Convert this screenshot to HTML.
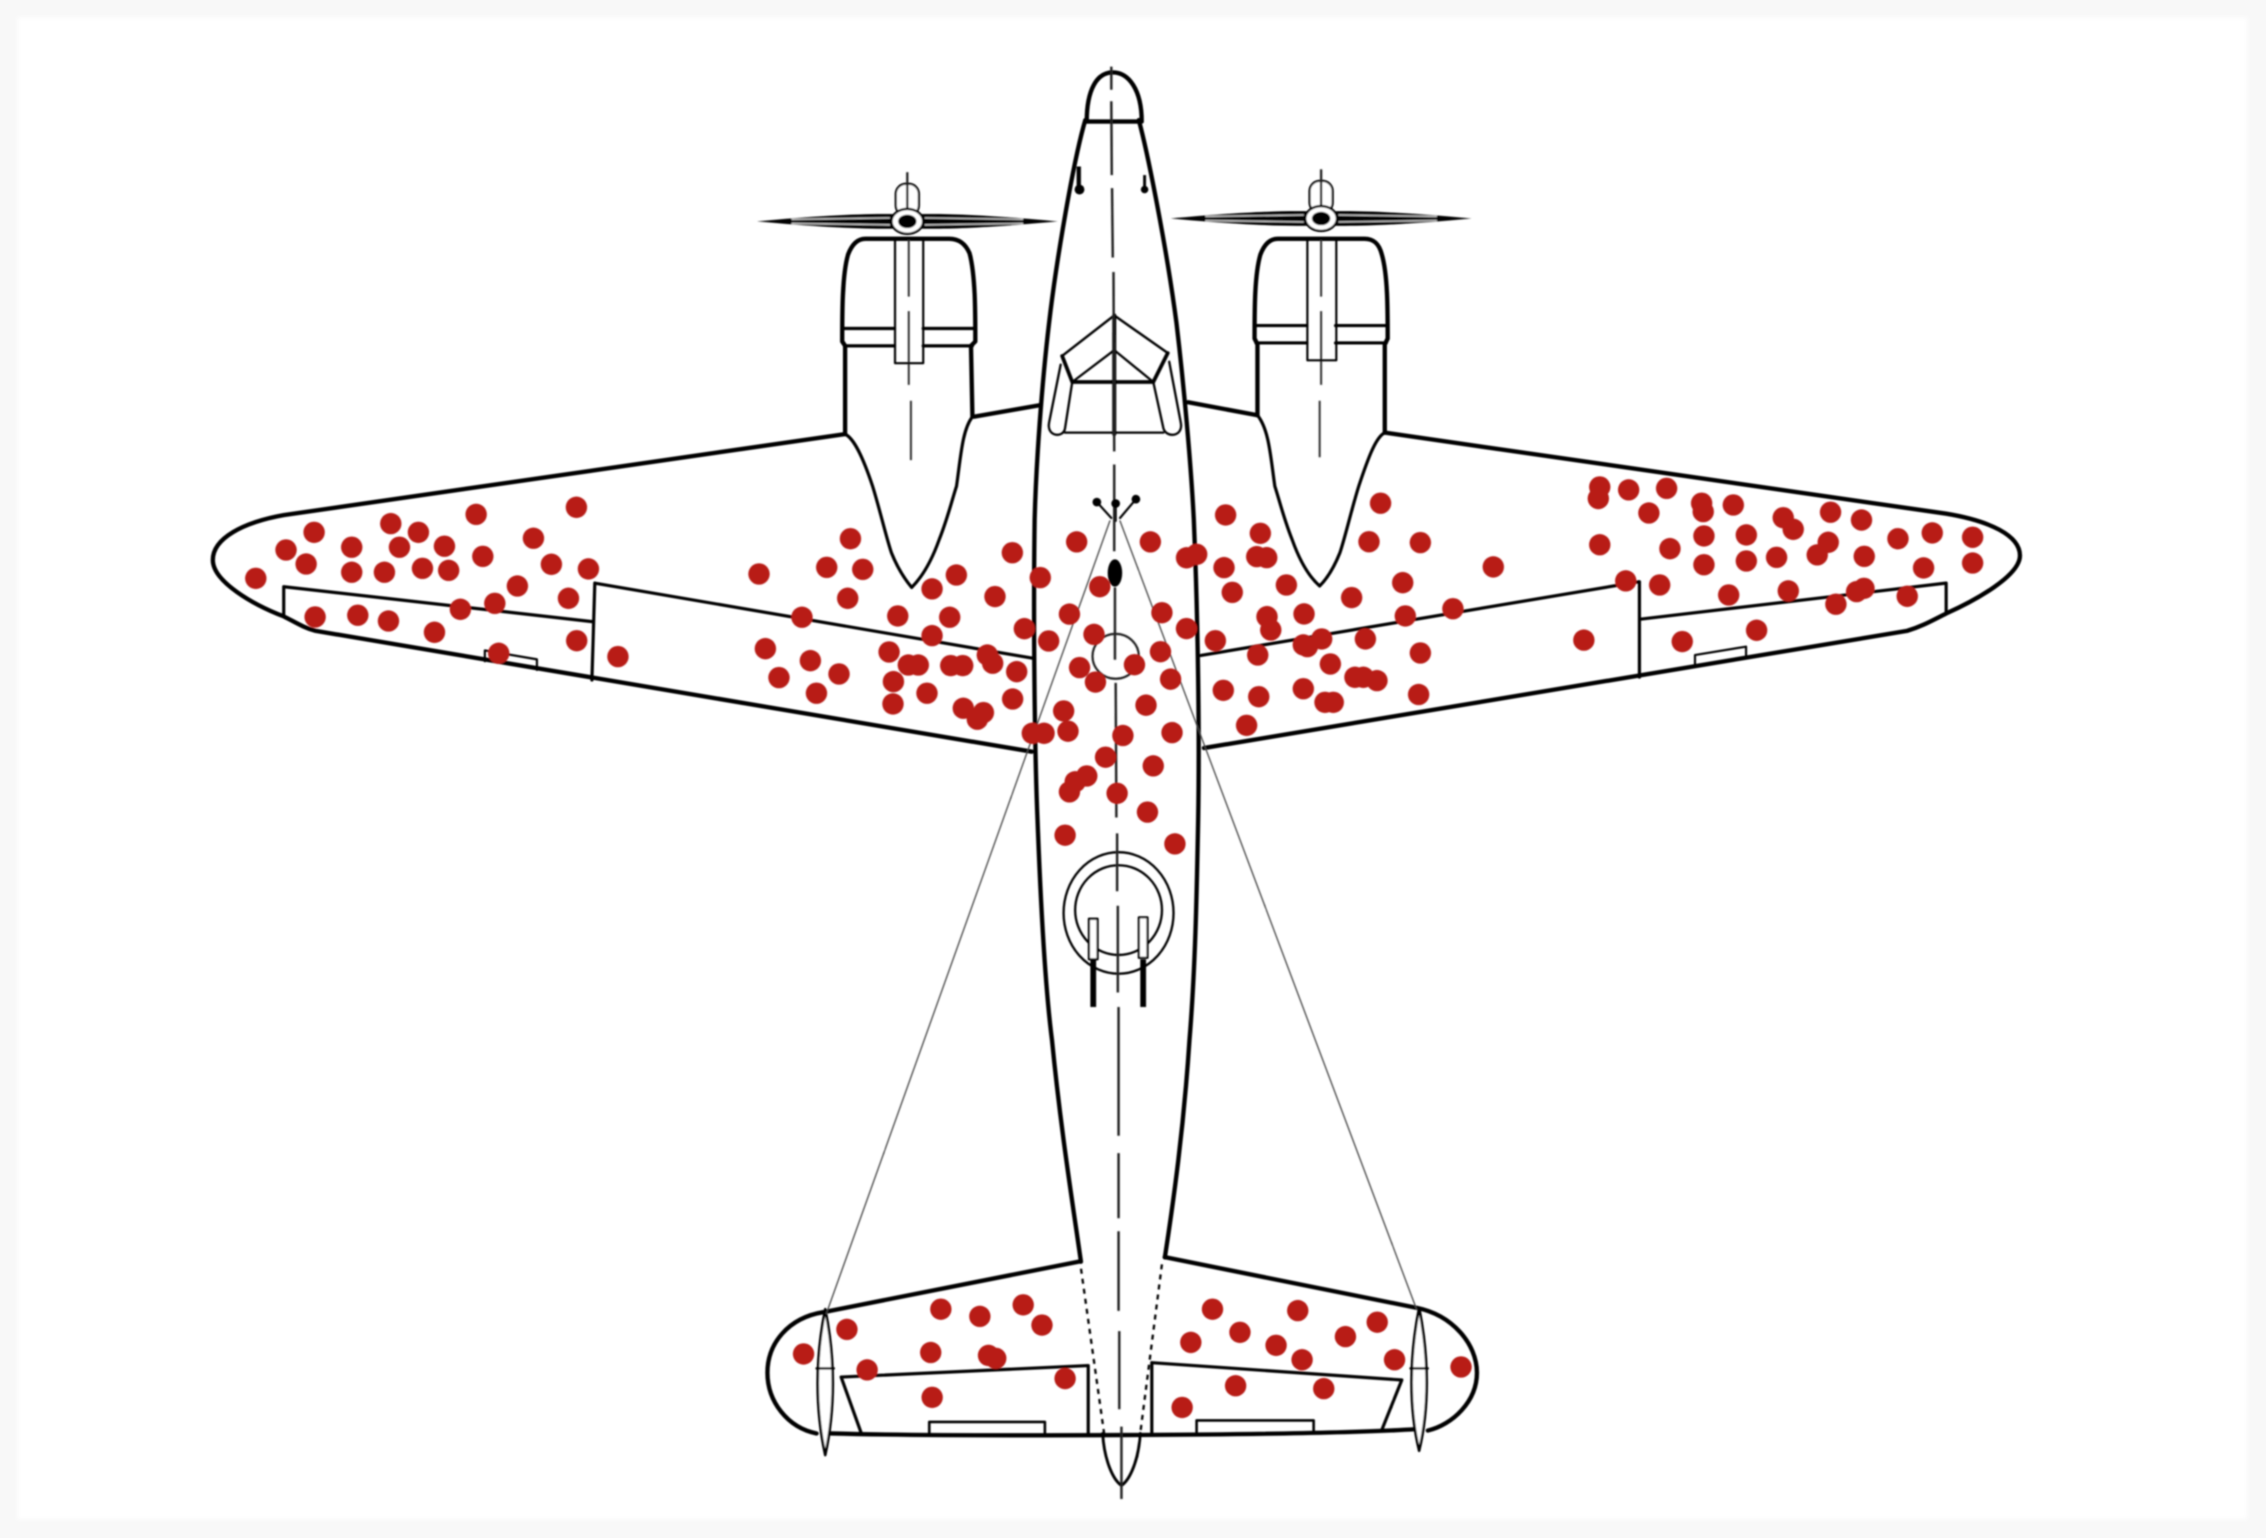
<!DOCTYPE html>
<html>
<head>
<meta charset="utf-8">
<style>
html,body{margin:0;padding:0;background:#f8f8f8;width:2266px;height:1538px;overflow:hidden}
svg{position:absolute;left:0;top:0;display:block}
</style>
</head>
<body>
<svg width="2266" height="1538" viewBox="0 0 1566 1063" xmlns="http://www.w3.org/2000/svg">
<defs>
<filter id="soft" x="-2%" y="-2%" width="104%" height="104%"><feGaussianBlur stdDeviation="0.5"/></filter>
<filter id="edge" x="-2%" y="-2%" width="104%" height="104%"><feGaussianBlur stdDeviation="1.5"/></filter>
<g id="prop">
  <path d="M-104,0 C-60,-4 -30,-5.5 -8,-5 L8,-5 C30,-5.5 60,-4 104,0 C60,4 30,5.5 8,5 L-8,5 C-30,5.5 -60,4 -104,0Z" fill="#000"/>
  <path d="M-80,-1.4 L-12,-2.4 M-80,1.4 L-12,2.4 M12,-2.4 L80,-1.4 M12,2.4 L80,1.4" stroke="#c8c8c8" stroke-width="1"/>
  <rect x="-8" y="-26" width="16" height="22" rx="7" fill="#fff" stroke="#000" stroke-width="1.5"/>
  <line x1="0" y1="-34" x2="0" y2="-4" stroke="#222" stroke-width="1.6"/>
  <ellipse cx="0" cy="0" rx="11" ry="8.6" fill="#fff" stroke="#000" stroke-width="1.6"/>
  <ellipse cx="0" cy="0" rx="6.3" ry="4.6" fill="#000"/>
</g>
</defs>
<rect x="0" y="0" width="1566" height="1063" fill="#f8f8f8"/>
<rect x="12" y="12" width="1541" height="1038" fill="#fff" filter="url(#edge)"/>
<g filter="url(#soft)">
<g fill="none" stroke="#000" stroke-width="3" stroke-linejoin="round" stroke-linecap="round">
  <!-- fuselage -->
  <path d="M750,83 C742,110 730,180 725,223 C720,265 716,320 715,359 C714,430 715,520 717,567 C719,620 722,680 727,719 C733,780 741,830 747,872"/>
  <path d="M787,83 C793,105 806,170 813,223 C818,265 823,320 825,359 C828,430 829,510 828,567 C827,620 826,670 822,719 C818,780 811,830 805,869"/>
  <path d="M751,84 C751,62 758,50 769,50 C780,50 789,62 789,84 L751,84Z"/>
  <!-- wings -->
  <path d="M584,300 L196,356 C168,361 147,372 147,387 C147,402 175,418 196,426 C204,430 210,434 218,436 L713,519.5"/>
  <path d="M957,299 L1345,355 C1375,360 1396,370 1396,384 C1396,398 1365,415 1345,424 C1335,429 1328,433 1318,436 L832,517"/>
  <path d="M673,288 L719,280 M821,278 L869,287"/>
  <!-- left engine -->
  <path d="M584,300 L584,239 L582,236 C582,215 582,190 586,176 C589,168 593,165 598,165 L656,165 C662,165 667,168 670,175 C674,190 674,215 674,236 L671,239 L672,288"/>
  <path d="M584,300 C590,303 596,315 603,336 C608,352 612,370 616,382 C620,392 625,400 630,406 C638,398 644,387 649,373 C655,358 658,345 661,336 C664,315 665,297 672,288" stroke-width="2.2"/>
  <path d="M583,227 L618,227 M638,227 L674,227 M584,239 L618,239 M638,239 L672,239" stroke-width="2.2"/>
  <!-- right engine -->
  <path d="M869,287 L869,238 L867,234 C867,213 867,190 871,176 C874,168 878,165 883,165 L943,165 C949,165 953,168 955,176 C959,190 959,213 959,234 L957,238 L957,299"/>
  <path d="M957,299 C951,302 946,315 939,336 C934,352 930,370 926,382 C922,392 917,400 912,405 C904,398 898,387 893,373 C887,358 884,345 881,336 C878,315 877,297 869,287" stroke-width="2.2"/>
  <path d="M868,225 L903,225 M923,225 L959,225 M868,237 L903,237 M923,237 L958,237" stroke-width="2.2"/>
  <!-- wing control surfaces -->
  <path d="M196,426 L196,405.5 L409,429.6 M411,403 L714,455 M411,403 L409,470" stroke-width="2.2"/>
  <path d="M830,453 L1133,402 L1133,468 M1133,428 L1345,403 L1345,424" stroke-width="2.2"/>
  <path d="M335,457 L335,449.5 L371,455.7 L371,463 M1171.4,460.5 L1171.4,452.7 L1206.7,446.9 L1206.7,455" stroke-width="1.5"/>
  <!-- tail -->
  <g transform="scale(.99872)">
  <path d="M747,873 L570,908 C545,912 531,930 531,950 C531,970 545,988 565,992"/>
  <path d="M806,870 L980,905 C1005,910 1022,930 1022,950 C1022,970 1005,986 988,990"/>
  <path d="M575,992 C650,994 900,994 980,989"/>
  <path d="M753,992 L753,945 L582,953 L596,992" stroke-width="2.2"/>
  <path d="M797,992 L797,943 L970,955 L956,990" stroke-width="2.2"/>
  <path d="M643,992 L643,984 L723,984 L723,992 M828,991 L828,983 L909,983 L909,991" stroke-width="1.8"/>
  <path d="M571,906 C564,940 564,975 571,1007 C578,975 578,940 571,906Z" fill="#fff" stroke-width="1.8"/>
  <path d="M982,905 C975,940 975,975 982,1004 C989,975 989,940 982,905Z" fill="#fff" stroke-width="1.8"/>
  <path d="M565,947 L577,947 M976,947 L988,947" stroke-width="1.6"/>
  <path d="M763,992 C764,1010 770,1024 776,1028 C782,1024 788,1010 789,992" stroke-width="2"/>
  <path d="M748,878 L764,992 M804,875 L789,992" stroke-width="1.6" stroke-dasharray="3.5 3.5" stroke-linecap="butt"/>
  </g>
  <!-- cockpit -->
  <path d="M770,218 L734,246 L741,264 L797,264 L807,244 L770,218Z" stroke-width="1.7"/>
  <path d="M741,264 L770,242 L797,264" stroke-width="1.6"/>
  <path d="M741,264 L797,264 M734,246 L741,264 M807,244 L797,264" stroke-width="2.6"/>
  <path d="M733,252 L725,292 C723,302 735,303 736,296 L741,264" stroke-width="1.6"/>
  <path d="M808,250 L816,292 C818,302 806,303 804,296 L797,264" stroke-width="1.6"/>
  <path d="M736,299 L804,299" stroke-width="1.6"/>
  <path d="M770,218 L770,300" stroke-width="2.8"/>
  <!-- gun turret -->
  <ellipse cx="773" cy="631" rx="38" ry="42" stroke-width="1.6"/>
  <ellipse cx="773" cy="629" rx="30" ry="31" stroke-width="1.6"/>
  <rect x="752.5" y="635" width="6" height="28" fill="#fff" stroke-width="1.5"/>
  <rect x="787" y="634" width="6" height="28" fill="#fff" stroke-width="1.5"/>
  <path d="M755.5,663 L755.5,696 M790,663 L790,696" stroke-width="4" stroke-linecap="butt"/>
  <!-- antenna -->
  <path d="M767,360 L571,908 M774,360 L979,905" stroke="#444" stroke-width="0.9"/>
  <path d="M758,347 L768,358 M771,348 L771,360 M785,345 L774,358" stroke-width="1.5"/>
  <ellipse cx="771" cy="453.6" rx="16" ry="15.5" stroke="#222" stroke-width="1.5"/>
  <!-- centre lines -->
  <path d="M768,46 L768,62 M768,70 L768.3,121 M768.5,130 L769,178 M769.5,188 L770,312 M770,321 L770,381 M770.5,406 L770.5,456 M771,472 L771.5,565 M772,576 L772,616 M772.5,626 L772.5,686 M773,696 L773,785 M773,797 L773,842 M773,851 L773,906 M773.5,920 L773.5,974 M775,986 L775,1036" stroke="#222" stroke-width="1.7" stroke-linecap="butt"/>
  <path d="M628,165 L628,205 M628,215 L628,266 M629.5,277 L629.5,318 M913,165 L913,205 M913,215 L913,266 M912,277 L912,316" stroke="#333" stroke-width="1.4" stroke-linecap="butt"/>
  <rect x="618.5" y="165" width="19.5" height="86" stroke-width="1.5"/>
  <rect x="903.5" y="165" width="20" height="84" stroke-width="1.5"/>
</g>
<use href="#prop" x="627" y="153"/>
<use href="#prop" x="913" y="151"/>
<g fill="#000">
  <circle cx="758" cy="347" r="3"/><circle cx="771" cy="348" r="3"/><circle cx="785" cy="345" r="3"/>
  <ellipse cx="770.5" cy="396" rx="5" ry="9.5"/>
  <circle cx="746" cy="131" r="3.4"/><rect x="744" y="115" width="3" height="14"/>
  <circle cx="791" cy="131" r="2.6"/><rect x="790" y="121" width="2" height="9"/>
</g>
<g fill="#b81f17">
<!-- left wing tip -->
<circle cx="176.7" cy="399.7" r="7.4"/><circle cx="197.6" cy="380.1" r="7.4"/><circle cx="217" cy="367.9" r="7.4"/><circle cx="211.5" cy="389.8" r="7.4"/><circle cx="243" cy="378.2" r="7.4"/><circle cx="243" cy="395.5" r="7.4"/><circle cx="265.6" cy="395.5" r="7.4"/><circle cx="270" cy="361.9" r="7.4"/><circle cx="276" cy="378.2" r="7.4"/><circle cx="289.1" cy="367.9" r="7.4"/><circle cx="291.9" cy="392.8" r="7.4"/><circle cx="307.1" cy="377.5" r="7.4"/><circle cx="310" cy="394.2" r="7.4"/><circle cx="333.6" cy="384.5" r="7.4"/><circle cx="329" cy="355.5" r="7.4"/><circle cx="368.6" cy="372" r="7.4"/><circle cx="381" cy="390" r="7.4"/><circle cx="398.3" cy="350.6" r="7.4"/><circle cx="406.6" cy="393.2" r="7.4"/><circle cx="357.5" cy="405" r="7.4"/><circle cx="341.9" cy="417" r="7.4"/><circle cx="318.1" cy="421.1" r="7.4"/><circle cx="392.8" cy="413.5" r="7.4"/><circle cx="217.7" cy="426.4" r="7.4"/><circle cx="247.2" cy="425.2" r="7.4"/><circle cx="268.4" cy="429.2" r="7.4"/><circle cx="300.2" cy="437" r="7.4"/><circle cx="344.6" cy="451.5" r="7.4"/><circle cx="398.5" cy="442.8" r="7.4"/><circle cx="427" cy="453.8" r="7.4"/>
<!-- left inner wing -->
<circle cx="524.5" cy="396.7" r="7.4"/><circle cx="587.7" cy="372.3" r="7.4"/><circle cx="571.3" cy="392.1" r="7.4"/><circle cx="596.2" cy="393.5" r="7.4"/><circle cx="585.8" cy="413.5" r="7.4"/><circle cx="554.2" cy="426.6" r="7.4"/><circle cx="528.9" cy="448.3" r="7.4"/><circle cx="560" cy="456.6" r="7.4"/><circle cx="538.3" cy="468.3" r="7.4"/><circle cx="579.8" cy="465.8" r="7.4"/><circle cx="564.2" cy="479.1" r="7.4"/><circle cx="614.4" cy="450.6" r="7.4"/><circle cx="627.7" cy="459.6" r="7.4"/><circle cx="634.6" cy="459.6" r="7.4"/><circle cx="617.4" cy="471.1" r="7.4"/><circle cx="617.1" cy="486.5" r="7.4"/><circle cx="640.6" cy="479.1" r="7.4"/><circle cx="620.4" cy="425.7" r="7.4"/><circle cx="644.1" cy="407" r="7.4"/><circle cx="660.9" cy="397.4" r="7.4"/><circle cx="656.3" cy="426.6" r="7.4"/><circle cx="644.1" cy="439.3" r="7.4"/><circle cx="657" cy="460" r="7.4"/><circle cx="665.3" cy="460" r="7.4"/><circle cx="687.6" cy="412.3" r="7.4"/><circle cx="699.6" cy="382" r="7.4"/><circle cx="718.9" cy="399.2" r="7.4"/><circle cx="707.9" cy="434.5" r="7.4"/><circle cx="724.7" cy="443" r="7.4"/><circle cx="682.3" cy="452.7" r="7.4"/><circle cx="686" cy="458.4" r="7.4"/><circle cx="702.6" cy="464.2" r="7.4"/><circle cx="699.8" cy="483.1" r="7.4"/><circle cx="665.7" cy="489.5" r="7.4"/><circle cx="679.6" cy="492.5" r="7.4"/><circle cx="675.4" cy="497.1" r="7.4"/><circle cx="713.4" cy="506.8" r="7.4"/><circle cx="721.5" cy="506.8" r="7.4"/>
<!-- right inner wing -->
<circle cx="847" cy="355.9" r="7.4"/><circle cx="871" cy="368.6" r="7.4"/><circle cx="820" cy="385.5" r="7.4"/><circle cx="827" cy="383.1" r="7.4"/><circle cx="845.9" cy="392.3" r="7.4"/><circle cx="868.5" cy="384.7" r="7.4"/><circle cx="875.4" cy="385.4" r="7.4"/><circle cx="851.6" cy="409.4" r="7.4"/><circle cx="889" cy="404.3" r="7.4"/><circle cx="875.6" cy="426.2" r="7.4"/><circle cx="878.2" cy="435.4" r="7.4"/><circle cx="901.2" cy="424.3" r="7.4"/><circle cx="839.9" cy="442.8" r="7.4"/><circle cx="869.2" cy="452.7" r="7.4"/><circle cx="900.7" cy="445.7" r="7.4"/><circle cx="903.5" cy="446.9" r="7.4"/><circle cx="913.4" cy="441.6" r="7.4"/><circle cx="919.4" cy="458.9" r="7.4"/><circle cx="943.6" cy="441.6" r="7.4"/><circle cx="934.1" cy="413" r="7.4"/><circle cx="954.1" cy="347.8" r="7.4"/><circle cx="946.1" cy="374.4" r="7.4"/><circle cx="981.6" cy="375" r="7.4"/><circle cx="969.4" cy="402.7" r="7.4"/><circle cx="971.2" cy="425.7" r="7.4"/><circle cx="1004.1" cy="420.7" r="7.4"/><circle cx="1032" cy="391.8" r="7.4"/><circle cx="981.6" cy="451.3" r="7.4"/><circle cx="845.4" cy="477.1" r="7.4"/><circle cx="869.9" cy="481.5" r="7.4"/><circle cx="900.7" cy="476" r="7.4"/><circle cx="915.7" cy="485.4" r="7.4"/><circle cx="921.4" cy="485.4" r="7.4"/><circle cx="936.4" cy="468.1" r="7.4"/><circle cx="942.2" cy="468.1" r="7.4"/><circle cx="951.6" cy="470.4" r="7.4"/><circle cx="980.4" cy="480" r="7.4"/><circle cx="861.5" cy="501.3" r="7.4"/>
<!-- right wing tip -->
<circle cx="1151.8" cy="337.5" r="7.4"/><circle cx="1176" cy="347.8" r="7.4"/><circle cx="1177.1" cy="353.6" r="7.4"/><circle cx="1197.9" cy="349" r="7.4"/><circle cx="1232.4" cy="357.8" r="7.4"/><circle cx="1239.3" cy="365.8" r="7.4"/><circle cx="1265.1" cy="354" r="7.4"/><circle cx="1286.5" cy="359.4" r="7.4"/><circle cx="1177.6" cy="370.4" r="7.4"/><circle cx="1206.9" cy="369.7" r="7.4"/><circle cx="1154.1" cy="379.2" r="7.4"/><circle cx="1177.6" cy="390.3" r="7.4"/><circle cx="1206.9" cy="387.7" r="7.4"/><circle cx="1227.8" cy="385.2" r="7.4"/><circle cx="1263.5" cy="374.8" r="7.4"/><circle cx="1255.9" cy="383.5" r="7.4"/><circle cx="1288.4" cy="384.5" r="7.4"/><circle cx="1311.7" cy="372.3" r="7.4"/><circle cx="1335.4" cy="368.3" r="7.4"/><circle cx="1363.3" cy="371.3" r="7.4"/><circle cx="1363.3" cy="389.1" r="7.4"/><circle cx="1329.4" cy="392.5" r="7.4"/><circle cx="1194.7" cy="411.2" r="7.4"/><circle cx="1235.9" cy="408.4" r="7.4"/><circle cx="1268.8" cy="417.6" r="7.4"/><circle cx="1283.1" cy="408.9" r="7.4"/><circle cx="1288.2" cy="406.6" r="7.4"/><circle cx="1318.1" cy="412.1" r="7.4"/><circle cx="1214" cy="435.6" r="7.4"/><circle cx="1162.6" cy="443.4" r="7.4"/><circle cx="1147" cy="404.3" r="7.4"/>
<g transform="scale(.99872)">
<circle cx="1107" cy="337" r="7.4"/><circle cx="1106" cy="345" r="7.4"/><circle cx="1127" cy="339" r="7.4"/><circle cx="1141" cy="355" r="7.4"/><circle cx="1107" cy="377" r="7.4"/><circle cx="1125" cy="402" r="7.4"/><circle cx="1096" cy="443" r="7.4"/>
<!-- fuselage -->
<circle cx="745" cy="375" r="7.4"/><circle cx="796" cy="375" r="7.4"/><circle cx="761" cy="406" r="7.4"/><circle cx="740" cy="425" r="7.4"/><circle cx="804" cy="424" r="7.4"/><circle cx="821" cy="435" r="7.4"/><circle cx="757" cy="439" r="7.4"/><circle cx="803" cy="451" r="7.4"/><circle cx="747" cy="462" r="7.4"/><circle cx="758" cy="472" r="7.4"/><circle cx="785" cy="460" r="7.4"/><circle cx="810" cy="470" r="7.4"/><circle cx="793" cy="488" r="7.4"/><circle cx="736" cy="492" r="7.4"/><circle cx="739" cy="506" r="7.4"/><circle cx="811" cy="507" r="7.4"/><circle cx="777" cy="509" r="7.4"/><circle cx="765" cy="524" r="7.4"/><circle cx="798" cy="530" r="7.4"/><circle cx="752" cy="537" r="7.4"/><circle cx="744" cy="541" r="7.4"/><circle cx="740" cy="548" r="7.4"/><circle cx="773" cy="549" r="7.4"/><circle cx="794" cy="562" r="7.4"/><circle cx="737" cy="578" r="7.4"/><circle cx="813" cy="584" r="7.4"/>
<!-- tail -->
<circle cx="556" cy="937" r="7.4"/><circle cx="586" cy="920" r="7.4"/><circle cx="600" cy="948" r="7.4"/><circle cx="651" cy="906" r="7.4"/><circle cx="678" cy="911" r="7.4"/><circle cx="708" cy="903" r="7.4"/><circle cx="721" cy="917" r="7.4"/><circle cx="644" cy="936" r="7.4"/><circle cx="684" cy="938" r="7.4"/><circle cx="689" cy="940" r="7.4"/><circle cx="645" cy="967" r="7.4"/><circle cx="737" cy="954" r="7.4"/>
<circle cx="839" cy="906" r="7.4"/><circle cx="898" cy="907" r="7.4"/><circle cx="824" cy="929" r="7.4"/><circle cx="858" cy="922" r="7.4"/><circle cx="883" cy="931" r="7.4"/><circle cx="901" cy="941" r="7.4"/><circle cx="931" cy="925" r="7.4"/><circle cx="953" cy="915" r="7.4"/><circle cx="965" cy="941" r="7.4"/><circle cx="1011" cy="946" r="7.4"/><circle cx="855" cy="959" r="7.4"/><circle cx="916" cy="961" r="7.4"/><circle cx="818" cy="974" r="7.4"/>
</g>
</g>
</g>
</svg>
</body>
</html>
